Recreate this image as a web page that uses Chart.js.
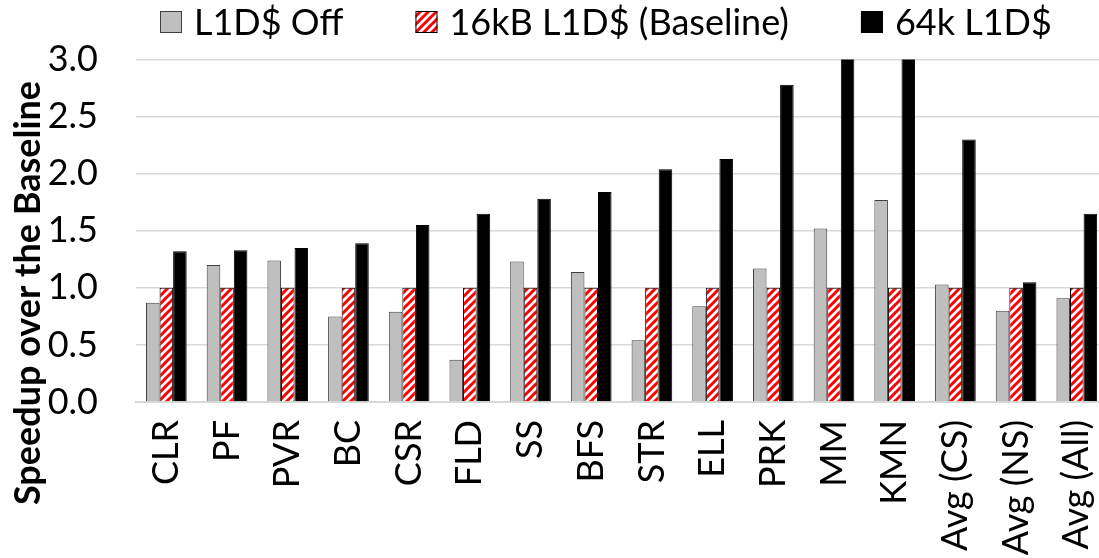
<!DOCTYPE html>
<html>
<head>
<meta charset="utf-8">
<script src="https://cdn.jsdelivr.net/npm/chart.js@4/dist/chart.umd.min.js"></script>
<style>
  html, body { margin: 0; padding: 0; background: #fff; overflow: hidden; }
  #wrap { width: 1138px; height: 558px; }
</style>
</head>
<body>
<div id="wrap"><canvas id="chart" width="1138" height="558"></canvas></div>
<script>
// Benchmarks and speedups, normalised to the 16kB L1D$ baseline
const benchmarks = ['CLR', 'PF', 'PVR', 'BC', 'CSR', 'FLD', 'SS', 'BFS', 'STR', 'ELL',
                    'PRK', 'MM', 'KMN', 'Avg (CS)', 'Avg (NS)', 'Avg (All)'];
const speedupOff  = [0.87, 1.20, 1.24, 0.75, 0.79, 0.37, 1.23, 1.14, 0.54, 0.84,
                     1.17, 1.52, 1.77, 1.03, 0.80, 0.91];
const speedupBase = [1.0, 1.0, 1.0, 1.0, 1.0, 1.0, 1.0, 1.0, 1.0, 1.0,
                     1.0, 1.0, 1.0, 1.0, 1.0, 1.0];
const speedup64k  = [1.32, 1.33, 1.35, 1.39, 1.55, 1.65, 1.78, 1.84, 2.04, 2.13,
                     2.78, 3.30, 3.50, 2.30, 1.05, 1.65];
const seriesNames = ['L1D$ Off', '16kB L1D$ (Baseline)', '64k L1D$'];
const yTitle = 'Speedup over the Baseline';
const yMin = 0, yMax = 3, yStep = 0.5;

const FONT = "Lato, 'DejaVu Sans', sans-serif";

// red "/" stripes on white for the baseline bars
function hatchPattern() {
  const n = 8;
  const c = document.createElement('canvas');
  c.width = c.height = n;
  const g = c.getContext('2d');
  g.fillStyle = '#fff';
  g.fillRect(0, 0, n, n);
  g.strokeStyle = '#ff0000';
  g.lineWidth = 3;
  g.beginPath();
  g.moveTo(-2, n + 2); g.lineTo(n + 2, -2);
  g.moveTo(-2, 2); g.lineTo(2, -2);
  g.moveTo(n - 2, n + 2); g.lineTo(n + 2, n - 2);
  g.stroke();
  return document.getElementById('chart').getContext('2d').createPattern(c, 'repeat');
}

// legend row across the top
const topLegend = {
  id: 'topLegend',
  afterDraw(chart) {
    const ctx = chart.ctx;
    const box = 22, y = 22;
    let x = 160;
    ctx.save();
    ctx.font = `36px ${FONT}`;
    ctx.textBaseline = 'middle';
    chart.data.datasets.forEach(ds => {
      ctx.fillStyle = ds.backgroundColor;
      ctx.fillRect(x, y - box / 2, box, box);
      ctx.lineWidth = 1;
      ctx.strokeStyle = ds.borderColor;
      ctx.strokeRect(x + 0.5, y - box / 2 + 0.5, box - 1, box - 1);
      x += box + 12;
      ctx.fillStyle = '#000';
      ctx.fillText(ds.label, x, y + 1);
      x += ctx.measureText(ds.label).width + 72;
    });
    ctx.restore();
  }
};

// rotated axis title, centred lower than the plot area
const sideTitle = {
  id: 'sideTitle',
  afterDraw(chart) {
    const ctx = chart.ctx;
    ctx.save();
    ctx.translate(28, 293);
    ctx.rotate(-Math.PI / 2);
    ctx.font = `bold 36px ${FONT}`;
    ctx.textAlign = 'center';
    ctx.textBaseline = 'middle';
    ctx.fillStyle = '#000';
    ctx.fillText(yTitle, 0, 0);
    ctx.restore();
  }
};

const tickFont = { family: FONT, size: 36 };

new Chart(document.getElementById('chart'), {
  type: 'bar',
  data: {
    labels: benchmarks,
    datasets: [
      { label: seriesNames[0], data: speedupOff, backgroundColor: '#bfbfbf', borderColor: '#404040', borderWidth: 1 },
      { label: seriesNames[1], data: speedupBase, backgroundColor: hatchPattern(), borderColor: '#000', borderWidth: 1 },
      { label: seriesNames[2], data: speedup64k, backgroundColor: '#000', borderColor: '#000', borderWidth: 1 }
    ]
  },
  options: {
    responsive: false,
    animation: false,
    events: [],
    datasets: { bar: { categoryPercentage: 0.67, barPercentage: 1 } },
    layout: { padding: { top: 59 } },
    plugins: { legend: { display: false }, tooltip: { enabled: false } },
    scales: {
      x: {
        grid: { display: false, drawTicks: false },
        border: { color: '#d9d9d9', width: 2 },
        ticks: { minRotation: 90, maxRotation: 90, autoSkip: false, padding: 18, color: '#000', font: tickFont },
        afterFit: s => { s.height = 156; }
      },
      y: {
        min: yMin,
        max: yMax,
        grid: { color: '#d9d9d9', lineWidth: 1.5, drawTicks: false },
        border: { display: false },
        ticks: { stepSize: yStep, padding: 38, color: '#000', font: tickFont, callback: v => v.toFixed(1) },
        afterFit: s => { s.width = 136; }
      }
    }
  },
  plugins: [topLegend, sideTitle]
});
</script>
</body>
</html>
